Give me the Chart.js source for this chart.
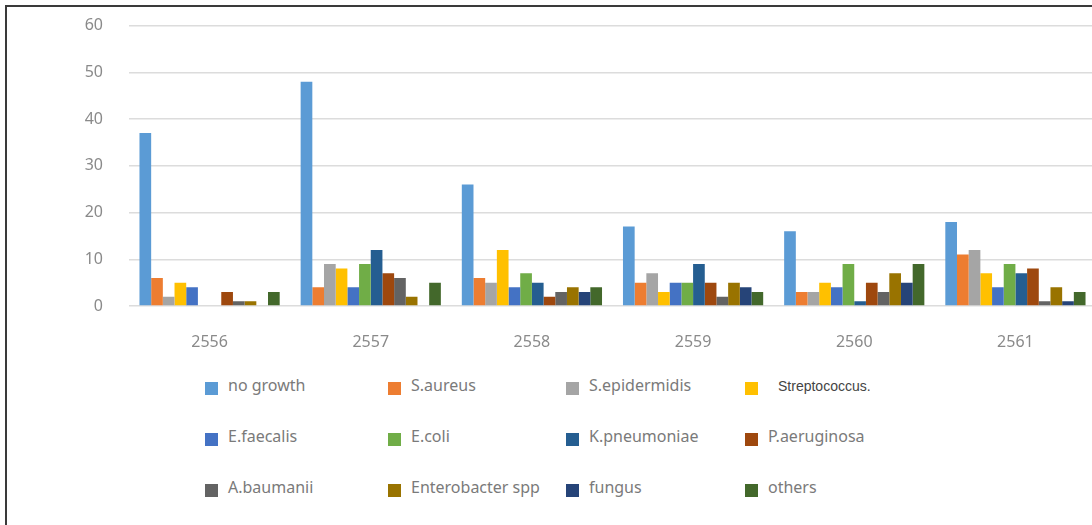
<!DOCTYPE html>
<html>
<head>
<meta charset="utf-8">
<script src="https://cdn.jsdelivr.net/npm/chart.js@4"></script>
<style>
  html, body { margin: 0; padding: 0; background: #fff; overflow: hidden; }
  body { width: 1092px; height: 525px; position: relative; }
  .frame {
    position: absolute; left: 5px; top: 5px; width: 1200px; height: 600px;
    border-top: 2px solid #3a3a3a; border-left: 2px solid #3a3a3a;
  }
  #wrap { position: absolute; left: 0; top: -10px; width: 1096px; height: 370px; }
  .leg { position: absolute; font-family: "Noto Sans", sans-serif; font-size: 16px; color: #7a7a7a; white-space: nowrap; }
  .leg .box { position: absolute; left: 0; top: 4px; width: 13px; height: 13px; }
  .leg .txt { position: absolute; left: 23px; top: -4px; }
  .leg.odd .txt { left: 33px; top: 0; font-family: "Liberation Sans", sans-serif; font-size: 14px; color: #444; }
</style>
</head>
<body>
<div class="frame"></div>
<div id="wrap"><canvas id="chart" width="1096" height="370"></canvas></div>
<div id="legend"></div>
<script>
const years = ['2556', '2557', '2558', '2559', '2560', '2561'];

const noGrowth      = [37, 48, 26, 17, 16, 18];
const sAureus       = [6, 4, 6, 5, 3, 11];
const sEpidermidis  = [2, 9, 5, 7, 3, 12];
const streptococcus = [5, 8, 12, 3, 5, 7];
const eFaecalis     = [4, 4, 4, 5, 4, 4];
const eColi         = [0, 9, 7, 5, 9, 9];
const kPneumoniae   = [0, 12, 5, 9, 1, 7];
const pAeruginosa   = [3, 7, 2, 5, 5, 8];
const aBaumanii     = [1, 6, 3, 2, 3, 1];
const enterobacter  = [1, 2, 4, 5, 7, 4];
const fungus        = [0, 0, 3, 4, 5, 1];
const others        = [3, 5, 4, 3, 9, 3];

const yTicks = [0, 10, 20, 30, 40, 50, 60];

const series = [
  ['no growth', noGrowth, '#5B9BD5'],
  ['S.aureus', sAureus, '#ED7D31'],
  ['S.epidermidis', sEpidermidis, '#A5A5A5'],
  ['Streptococcus.', streptococcus, '#FFC000'],
  ['E.faecalis', eFaecalis, '#4472C4'],
  ['E.coli', eColi, '#70AD47'],
  ['K.pneumoniae', kPneumoniae, '#255E91'],
  ['P.aeruginosa', pAeruginosa, '#9E480E'],
  ['A.baumanii', aBaumanii, '#636363'],
  ['Enterobacter spp', enterobacter, '#997300'],
  ['fungus', fungus, '#264478'],
  ['others', others, '#43682B']
];

const tickFont = { family: 'Noto Sans', size: 16 };

new Chart(document.getElementById('chart'), {
  type: 'bar',
  data: {
    labels: years,
    datasets: series.map(([label, data, color]) => ({
      label,
      data,
      backgroundColor: color,
      categoryPercentage: 0.87,
      barPercentage: 1.0,
    }))
  },
  options: {
    responsive: false,
    animation: false,
    layout: { padding: { top: 16, right: 0, bottom: 0, left: 0 } },
    plugins: {
      legend: { display: false },
      tooltip: { enabled: false },
    },
    scales: {
      y: {
        min: 0,
        max: 60,
        afterBuildTicks: (scale) => { scale.ticks = yTicks.map(v => ({ value: v })); },
        afterFit: (scale) => { scale.width = 129; },
        ticks: { color: '#8a8a8a', font: tickFont, padding: 26 },
        grid: { color: '#dcdcdc', drawTicks: false, lineWidth: 1.5 },
        border: { display: false },
      },
      x: {
        afterFit: (scale) => { scale.height = 54; },
        ticks: { color: '#8a8a8a', font: tickFont, padding: 19 },
        grid: { display: false },
        border: { display: false },
      },
    },
  }
});

// legend laid out in a 4 x 3 grid below the plot
const legCols = [205, 388, 566, 745];
const legRows = [378, 429, 480];
const legend = document.getElementById('legend');
series.forEach(([label, , color], i) => {
  const item = document.createElement('div');
  item.className = 'leg' + (i === 3 ? ' odd' : '');
  item.style.left = legCols[i % 4] + 'px';
  item.style.top = legRows[Math.floor(i / 4)] + 'px';
  item.innerHTML = '<span class="box" style="background:' + color + '"></span><span class="txt">' + label + '</span>';
  legend.appendChild(item);
});
</script>
</body>
</html>
